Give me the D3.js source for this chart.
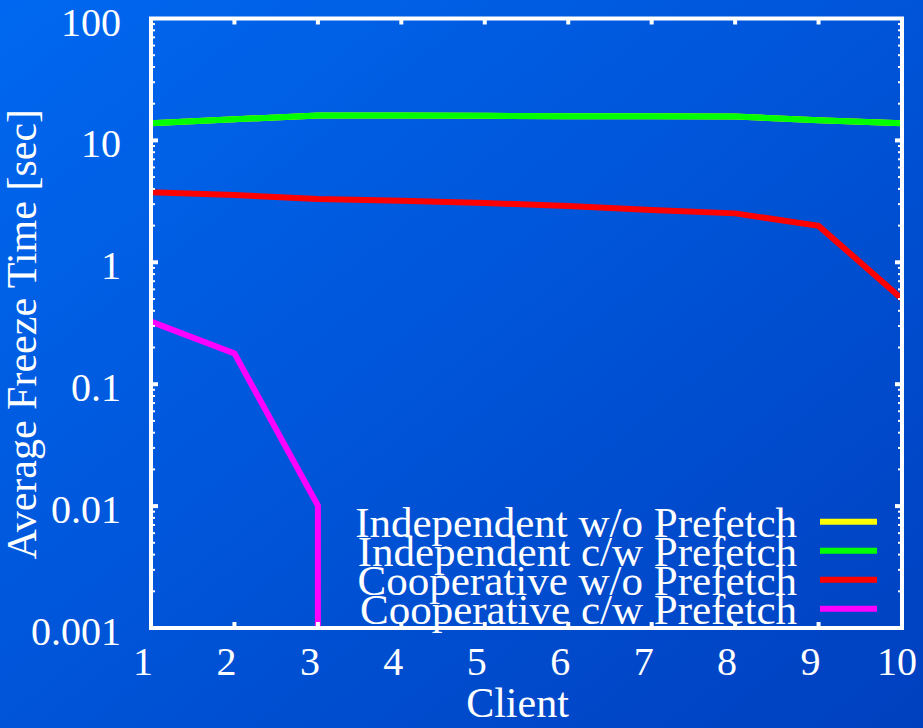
<!DOCTYPE html>
<html>
<head>
<meta charset="utf-8">
<script src="https://cdn.jsdelivr.net/npm/d3@7"></script>
<style>
  body { margin: 0; }
  text { font-family: "Liberation Serif", "Times New Roman", serif; fill: #fff; }
</style>
</head>
<body>
<div id="chart"></div>
<script>
// data
const clients = [1, 2, 3, 4, 5, 6, 7, 8, 9, 10];
const indepNoPrefetch = [13.8, 14.9, 16.0, 16.0, 15.9, 15.8, 15.8, 15.7, 14.6, 13.8];
const indepPrefetch   = [13.8, 14.9, 16.0, 16.0, 15.9, 15.8, 15.8, 15.7, 14.6, 13.8];
const coopNoPrefetch  = [3.75, 3.57, 3.30, 3.20, 3.07, 2.89, 2.69, 2.52, 1.99, 0.50];
// cooperative with prefetch falls to zero after client 3 (drawn to the floor)
const coopPrefetchX = [1, 2, 3, 3];
const coopPrefetchY = [0.326, 0.179, 0.0101, 0.001];
const yTicks = [0.001, 0.01, 0.1, 1, 10, 100];
const seriesNames = ["Independent w/o Prefetch", "Independent c/w Prefetch",
                     "Cooperative w/o Prefetch", "Cooperative c/w Prefetch"];
const seriesColors = ["#ffff00", "#00ff00", "#ff0000", "#ff00ff"];

const width = 923, height = 728;
const margin = {left: 151, right: 21, top: 18.5, bottom: 100};

const svg = d3.select("#chart").append("svg")
    .attr("width", width).attr("height", height);

// background gradient
const grad = svg.append("defs").append("linearGradient")
    .attr("id", "bg").attr("x1", "0").attr("y1", "0").attr("x2", "1").attr("y2", "1");
grad.append("stop").attr("offset", "0%").attr("stop-color", "#0068f0");
grad.append("stop").attr("offset", "100%").attr("stop-color", "#0040bf");
svg.append("rect").attr("width", width).attr("height", height).attr("fill", "url(#bg)");

const x = d3.scaleLinear().domain([1, 10]).range([margin.left, width - margin.right]);
const y = d3.scaleLog().domain([0.001, 100]).range([height - margin.bottom, margin.top]);

// data lines
const line = d3.line().x(d => x(d[0])).y(d => y(d[1]));
const series = [
  clients.map((c, i) => [c, indepNoPrefetch[i]]),
  clients.map((c, i) => [c, indepPrefetch[i]]),
  clients.map((c, i) => [c, coopNoPrefetch[i]]),
  coopPrefetchX.map((c, i) => [c, coopPrefetchY[i]])
];
svg.append("g").selectAll("path").data(series).join("path")
    .attr("d", line)
    .attr("fill", "none")
    .attr("stroke", (d, i) => seriesColors[i])
    .attr("stroke-width", 6);

// frame
svg.append("rect")
    .attr("x", x(1)).attr("y", y(100))
    .attr("width", x(10) - x(1)).attr("height", y(0.001) - y(100))
    .attr("fill", "none").attr("stroke", "#fff").attr("stroke-width", 4);

// ticks (inward, mirrored)
const tk = svg.append("g").attr("stroke", "#fff").attr("stroke-width", 4);
clients.slice(1, -1).forEach(c => {
  tk.append("line").attr("x1", x(c)).attr("x2", x(c)).attr("y1", y(0.001)).attr("y2", y(0.001) - 6);
  tk.append("line").attr("x1", x(c)).attr("x2", x(c)).attr("y1", y(100)).attr("y2", y(100) + 6);
});
yTicks.slice(1, -1).forEach(v => {
  tk.append("line").attr("x1", x(1)).attr("x2", x(1) + 7).attr("y1", y(v)).attr("y2", y(v));
  tk.append("line").attr("x1", x(10)).attr("x2", x(10) - 7).attr("y1", y(v)).attr("y2", y(v));
});
const minor = y.ticks().filter(v => !yTicks.includes(v));
const mk = svg.append("g").attr("stroke", "#fff").attr("stroke-width", 2);
minor.forEach(v => {
  mk.append("line").attr("x1", x(1)).attr("x2", x(1) + 4).attr("y1", y(v)).attr("y2", y(v));
  mk.append("line").attr("x1", x(10)).attr("x2", x(10) - 4).attr("y1", y(v)).attr("y2", y(v));
});

// tick labels
svg.append("g").selectAll("text").data(clients).join("text")
    .attr("x", d => x(d) - (d < 10 ? 8 : 5)).attr("y", y(0.001) + 47)
    .attr("text-anchor", "middle").attr("font-size", 40)
    .text(d => d);
svg.append("g").selectAll("text").data(yTicks).join("text")
    .attr("x", 121).attr("y", d => y(d) + 17)
    .attr("text-anchor", "end").attr("font-size", 40)
    .text(d3.format("~g"));

// axis titles
svg.append("text")
    .attr("x", (x(1) + x(10)) / 2 - 9).attr("y", 717)
    .attr("text-anchor", "middle").attr("font-size", 42)
    .text("Client");
svg.append("text")
    .attr("transform", `translate(36,${(y(0.001) + y(100)) / 2 + 11}) rotate(-90)`)
    .attr("text-anchor", "middle").attr("font-size", 42)
    .text("Average Freeze Time [sec]");

// legend
const leg = svg.append("g").selectAll("g").data(seriesNames).join("g")
    .attr("transform", (d, i) => `translate(0,${521.7 + i * 29})`);
leg.append("text").attr("x", 797).attr("y", 15)
    .attr("text-anchor", "end").attr("font-size", 43)
    .text(d => d);
leg.append("line").attr("x1", 820).attr("x2", 877)
    .attr("stroke", (d, i) => seriesColors[i]).attr("stroke-width", 6);
</script>
</body>
</html>
